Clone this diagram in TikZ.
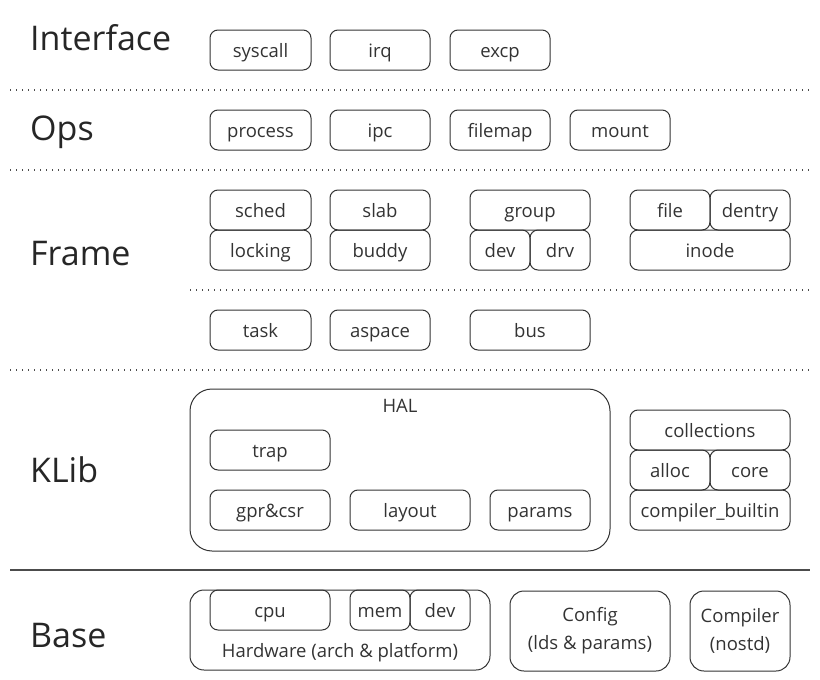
\documentclass[tikz,border=0pt]{standalone}
\usepackage{fontspec}
\setmainfont{Open Sans}
\begin{document}
\begin{tikzpicture}[x=1pt,y=-1pt,
  box/.style={draw=black!80, line width=1pt, rounded corners=8pt, inner sep=0pt,
    text=black!80, font=\fontsize{18.5}{22}\selectfont, align=center,
    text height=16pt, text depth=2pt},
  bigbox/.style={box, rounded corners=14pt, text height=, text depth=,
    font=\fontsize{18.5}{28}\selectfont},
  plain/.style={inner sep=0pt, text=black!80, font=\fontsize{18.5}{22}\selectfont},
  layerlabel/.style={anchor=west, inner sep=0pt, text=black!85, font=\fontsize{34}{40}\selectfont},
  sep/.style={line width=1.4pt, black!70, dash pattern=on 1.4pt off 4.6pt},
  solidsep/.style={line width=1.6pt, black!70}]
\useasboundingbox (0,0) rectangle (820,680);

% layer labels
\node[layerlabel] (lInterface) at (30,38) {Interface};
\node[layerlabel] (lOps) at (30,132) {Ops};
\node[layerlabel] (lFrame) at (30,254) {Frame};
\node[layerlabel] (lKLib) at (30,470) {KLib};
\node[layerlabel] (lBase) at (30,636) {Base};

% separators
\coordinate (s1a) at (10,90); \coordinate (s1b) at (812,90);
\coordinate (s2a) at (10,170); \coordinate (s2b) at (812,170);
\coordinate (s3a) at (190,290); \coordinate (s3b) at (812,290);
\coordinate (s4a) at (10,370); \coordinate (s4b) at (812,370);
\coordinate (s5a) at (10,570); \coordinate (s5b) at (810,570);
\draw[sep] (s1a) -- (s1b);
\draw[sep] (s2a) -- (s2b);
\draw[sep] (s3a) -- (s3b);
\draw[sep] (s4a) -- (s4b);
\draw[solidsep] (s5a) -- (s5b);

% Interface
\node[box, minimum width=101, minimum height=40] (syscall) at (260.5,50) {syscall};
\node[box, minimum width=100, minimum height=40] (irq) at (380,50) {irq};
\node[box, minimum width=100, minimum height=40] (excp) at (500,50) {excp};

% Ops
\node[box, minimum width=101, minimum height=40] (process) at (260.5,130) {process};
\node[box, minimum width=100, minimum height=40] (ipc) at (380,130) {ipc};
\node[box, minimum width=100, minimum height=40] (filemap) at (500,130) {filemap};
\node[box, minimum width=100, minimum height=40] (mount) at (620,130) {mount};

% Frame
\node[box, minimum width=101, minimum height=40] (sched) at (260.5,210) {sched};
\node[box, minimum width=101, minimum height=40] (locking) at (260.5,250) {locking};
\node[box, minimum width=100, minimum height=40] (slab) at (380,210) {slab};
\node[box, minimum width=100, minimum height=40] (buddy) at (380,250) {buddy};
\node[box, minimum width=120, minimum height=40] (group) at (530,210) {group};
\node[box, minimum width=60, minimum height=40] (fdev) at (500,250) {dev};
\node[box, minimum width=60, minimum height=40] (drv) at (560,250) {drv};
\node[box, minimum width=80, minimum height=40] (file) at (670,210) {file};
\node[box, minimum width=80, minimum height=40] (dentry) at (750,210) {dentry};
\node[box, minimum width=160, minimum height=40] (inode) at (710,250) {inode};

\node[box, minimum width=101, minimum height=40] (task) at (260.5,330) {task};
\node[box, minimum width=100, minimum height=40] (aspace) at (380,330) {aspace};
\node[box, minimum width=120, minimum height=40] (bus) at (530,330) {bus};

% KLib
\node[box, rounded corners=22pt, minimum width=420, minimum height=162] (hal) at (400,470) {};
\node[plain] (haltitle) at (400,406) {HAL};
\node[box, minimum width=120, minimum height=40] (trap) at (270,450) {trap};
\node[box, minimum width=120, minimum height=40] (gpr) at (270,510) {gpr\&csr};
\node[box, minimum width=120, minimum height=40] (layout) at (410,510) {layout};
\node[box, minimum width=100, minimum height=40] (params) at (540,510) {params};

\node[box, minimum width=160, minimum height=40] (collections) at (710,430) {collections};
\node[box, minimum width=80, minimum height=40] (alloc) at (670,470) {alloc};
\node[box, minimum width=80, minimum height=40] (core) at (750,470) {core};
\node[box, minimum width=160, minimum height=40] (cbuiltin) at (710,510) {compiler\_builtin};

% Base
\node[box, rounded corners=14pt, minimum width=300, minimum height=80] (hw) at (340,630) {};
\node[plain] (hwtitle) at (340,653) {Hardware (arch \& platform)};
\node[box, minimum width=120, minimum height=40] (cpu) at (270,610) {cpu};
\node[box, minimum width=60, minimum height=40] (mem) at (380,610) {mem};
\node[box, minimum width=60, minimum height=40] (bdev) at (440,610) {dev};
\node[bigbox, minimum width=160, minimum height=80] (config) at (590,631) {Config\\(lds \& params)};
\node[bigbox, minimum width=100, minimum height=80] (compiler) at (740,631) {Compiler\\(nostd)};
\end{tikzpicture}
\end{document}
